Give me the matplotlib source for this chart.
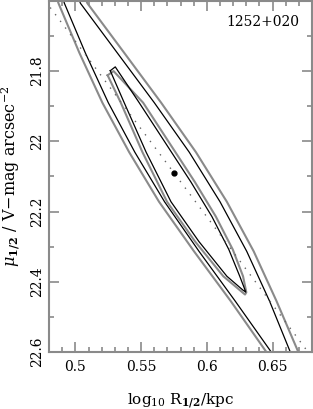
import numpy as np
import matplotlib
matplotlib.use('Agg')
import matplotlib.pyplot as plt

# best fit and constant-luminosity line
BEST_X, BEST_Y = 0.575, 22.09
dot_x = [0.477, 0.677]
dot_y = [21.60, 22.60]

# outer contours (run off the axes at both ends)
og_y  = [21.522, 21.607, 21.748, 21.890, 22.031, 22.172, 22.313, 22.455, 22.601, 22.681]
og_xl = [0.4803, 0.4871, 0.5030, 0.5205, 0.5409, 0.5636, 0.5902, 0.6182, 0.6455, 0.6576]
og_xr = [0.5000, 0.5091, 0.5371, 0.5652, 0.5917, 0.6152, 0.6356, 0.6530, 0.6697, 0.6780]
ob_xl = [0.4848, 0.4916, 0.5075, 0.5250, 0.5452, 0.5678, 0.5940, 0.6216, 0.6492, 0.6610]
ob_xr = [0.4955, 0.5038, 0.5318, 0.5600, 0.5866, 0.6100, 0.6303, 0.6477, 0.6636, 0.6727]

# inner contours
ib_xl = [0.5265, 0.5371, 0.5538, 0.5727, 0.5939, 0.6152, 0.6273, 0.6295]
ib_yl = [21.799, 21.890, 22.031, 22.172, 22.285, 22.384, 22.423, 22.429]
ib_xr = [0.5303, 0.5485, 0.5682, 0.5879, 0.6038, 0.6167, 0.6250, 0.6288]
ib_yr = [21.788, 21.890, 22.003, 22.116, 22.214, 22.308, 22.384, 22.421]
ig_xl = [0.5245, 0.5345, 0.5510, 0.5697, 0.5910, 0.6125, 0.6255, 0.6290]
ig_yl = [21.812, 21.890, 22.031, 22.172, 22.285, 22.384, 22.425, 22.436]
ig_xr = [0.5290, 0.5515, 0.5712, 0.5909, 0.6068, 0.6197, 0.6275, 0.6300]
ig_yr = [21.800, 21.890, 22.003, 22.116, 22.214, 22.308, 22.384, 22.430]

GREY = '#8a8a8a'
plt.rcParams['font.family'] = ['DejaVu Serif']
plt.rcParams['mathtext.fontset'] = 'dejavuserif'

fig = plt.figure(figsize=(3.13, 4.09), dpi=100)
ax = fig.add_axes([0.157, 0.139, 0.840, 0.859])


def closed(xl, yl, xr, yr):
    xs = list(xl) + list(xr)[::-1] + [xl[0]]
    ys = list(yl) + list(yr)[::-1] + [yl[0]]
    return xs, ys


xs, ys = closed(og_xl, og_y, og_xr, og_y)
ax.plot(xs, ys, color=GREY, lw=1.5)
xs, ys = closed(ob_xl, og_y, ob_xr, og_y)
ax.plot(xs, ys, color='k', lw=0.9)
xs, ys = closed(ig_xl, ig_yl, ig_xr, ig_yr)
ax.plot(xs, ys, color=GREY, lw=1.5)
xs, ys = closed(ib_xl, ib_yl, ib_xr, ib_yr)
ax.plot(xs, ys, color='k', lw=0.9)

ax.plot(dot_x, dot_y, color='#666666', lw=1.0, ls=(0, (1, 5)))
ax.plot([BEST_X], [BEST_Y], 'o', color='k', ms=3.5)

ax.set_xlim(0.48, 0.68)
ax.set_ylim(22.6, 21.6)
ax.set_xticks([0.5, 0.55, 0.6, 0.65])
ax.set_xticklabels(['0.5', '0.55', '0.6', '0.65'])
ax.set_xticks(np.arange(0.49, 0.68, 0.01), minor=True)
ax.set_yticks([21.8, 22.0, 22.2, 22.4, 22.6])
ax.set_yticklabels(['21.8', '22', '22.2', '22.4', '22.6'], rotation=90, va='center')
ax.set_yticks(np.arange(21.7, 22.6, 0.1), minor=True)
ax.tick_params(which='both', direction='in', top=True, right=True, color=GREY, labelsize=10)
ax.tick_params(axis='x', which='major', pad=6)
ax.tick_params(which='major', length=7, width=1.2)
ax.tick_params(which='minor', length=3.5, width=1.2)
for s in ax.spines.values():
    s.set_color(GREY)
    s.set_linewidth(1.5)

ax.text(0.95, 0.96, '1252+020', transform=ax.transAxes, ha='right', va='top', fontsize=10)
ax.set_xlabel(r'$\log_{10}\,\mathrm{R}_{\mathbf{1/2}}$/kpc', fontsize=11, labelpad=12)
ax.set_ylabel(r'$\mu_{\mathbf{1/2}}$ / V$-$mag arcsec$^{-2}$', fontsize=11.5)
ax.yaxis.set_label_coords(-0.103, 0.5)

fig.savefig('out.png', dpi=100)
